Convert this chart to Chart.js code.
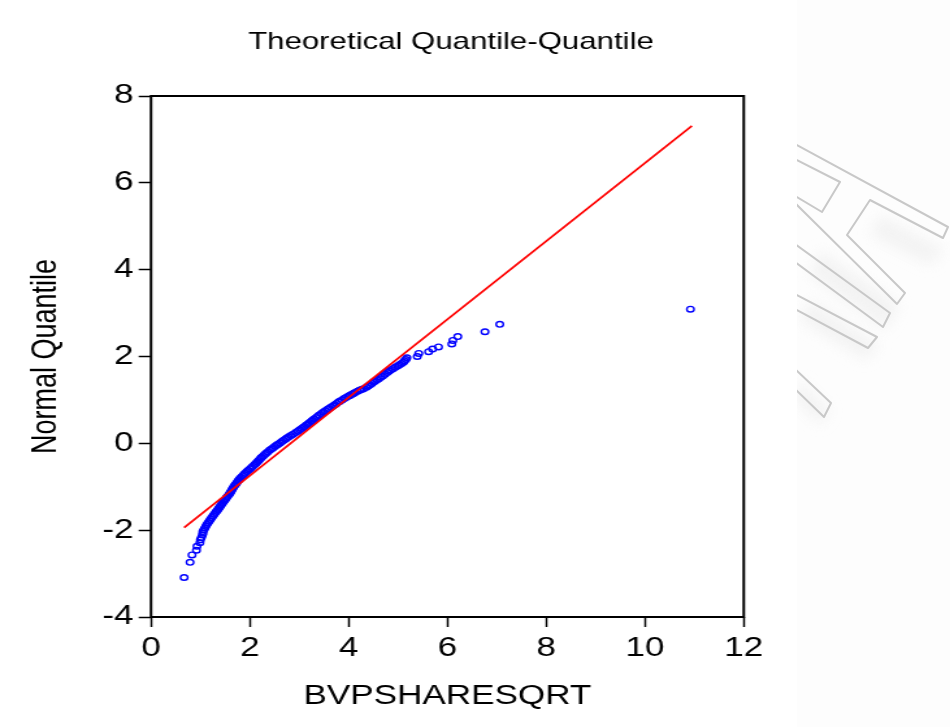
<!DOCTYPE html>
<html>
<head>
<meta charset="utf-8">
<script src="https://cdn.jsdelivr.net/npm/chart.js@4.4.1/dist/chart.umd.min.js"></script>
<style>
  html, body { margin: 0; padding: 0; background: #ffffff; }
  body { width: 950px; height: 727px; position: relative; overflow: hidden; }
  #logo { position: absolute; left: 0; top: 0; }
  /* the chart is laid out narrow and widened horizontally, like the stretched EViews export */
  #stage { position: absolute; left: 0; top: 0; width: 731px; height: 727px;
           transform: scaleX(1.2996); transform-origin: 0 0; }
</style>
</head>
<body>
<svg id="logo" width="950" height="727" viewBox="0 0 950 727">
  <defs>
    <filter id="soft" x="-20%" y="-20%" width="140%" height="140%">
      <feGaussianBlur stdDeviation="7"/>
    </filter>
    <clipPath id="logoClip"><rect x="797" y="0" width="153" height="727"/></clipPath>
  </defs>
  <g clip-path="url(#logoClip)">
    <rect x="797" y="0" width="153" height="727" fill="#fdfdfd"/>
    <g fill="#efefef" filter="url(#soft)" opacity="0.7">
      <polygon points="880,215 945,250 930,265 870,235"/>
      <polygon points="820,250 900,305 885,330 810,275"/>
      <polygon points="810,300 880,345 865,360 800,320"/>
      <polygon points="800,380 830,410 820,425 795,400"/>
    </g>
    <g fill="none" stroke="#c8c8c8" stroke-width="2" stroke-linejoin="round">
      <polyline points="795,159 840,182 822,212 795,196"/>
      <polyline points="795,144 948,227 943,238 870,200 847,235 905,293 897,304 795,203"/>
      <polyline points="795,244 890,313 883,327 795,262"/>
      <polyline points="795,294 877,337 868,348 795,309"/>
      <polyline points="795,369 831,403 824,417 795,389"/>
    </g>
  </g>
</svg>
<div id="stage"><canvas id="qq"></canvas></div>
<script>
// Sorted square roots of book value per share (horizontal axis)
const sampleSqrt = [
  0.67, 0.79, 0.83, 0.92, 0.93, 0.99, 1.00, 1.02, 1.04, 1.05,
  1.05, 1.07, 1.09, 1.11, 1.13, 1.155, 1.18, 1.205, 1.23, 1.257,
  1.283, 1.31, 1.33, 1.35, 1.369, 1.388, 1.407, 1.426, 1.445, 1.47,
  1.49, 1.51, 1.53, 1.55, 1.58, 1.596, 1.612, 1.628, 1.643, 1.66,
  1.68, 1.70, 1.72, 1.74, 1.76, 1.78, 1.80, 1.826, 1.853, 1.879,
  1.905, 1.94, 1.97, 2.00, 2.03, 2.06, 2.10, 2.125, 2.15, 2.174,
  2.199, 2.224, 2.24, 2.27, 2.30, 2.33, 2.36, 2.40, 2.436, 2.473,
  2.51, 2.546, 2.57, 2.61, 2.647, 2.686, 2.724, 2.75, 2.79, 2.83,
  2.875, 2.93, 2.97, 3.01, 3.05, 3.085, 3.11, 3.144, 3.18, 3.213,
  3.247, 3.27, 3.30, 3.34, 3.37, 3.405, 3.45, 3.49, 3.53, 3.57,
  3.60, 3.64, 3.68, 3.72, 3.756, 3.795, 3.82, 3.865, 3.91, 3.955,
  4.00, 4.033, 4.066, 4.098, 4.13, 4.18, 4.22, 4.26, 4.30, 4.36,
  4.396, 4.433, 4.47, 4.505, 4.53, 4.57, 4.61, 4.65, 4.69, 4.735,
  4.78, 4.815, 4.85, 4.897, 4.943, 4.99, 5.03, 5.07, 5.11, 5.13,
  5.16, 5.18,
  5.39, 5.42, 5.62, 5.70, 5.82, 6.09, 6.11, 6.21, 6.76, 7.06, 10.92
];

// Theoretical normal quantiles paired with each sorted value (vertical axis)
const normalQuantile = [
  -3.09, -2.74, -2.57, -2.46, -2.37, -2.29, -2.22, -2.17, -2.11, -2.07,
  -2.03, -1.99, -1.95, -1.91, -1.87, -1.83, -1.79, -1.75, -1.71, -1.67,
  -1.63, -1.59, -1.56, -1.53, -1.50, -1.47, -1.44, -1.41, -1.38, -1.34,
  -1.31, -1.28, -1.25, -1.22, -1.18, -1.15, -1.12, -1.09, -1.06, -1.03,
  -0.99, -0.96, -0.93, -0.90, -0.87, -0.84, -0.81, -0.78, -0.75, -0.72,
  -0.69, -0.65, -0.62, -0.59, -0.56, -0.53, -0.49, -0.46, -0.43, -0.40,
  -0.37, -0.34, -0.32, -0.29, -0.26, -0.23, -0.20, -0.16, -0.13, -0.10,
  -0.07, -0.04, -0.02, 0.01, 0.04, 0.07, 0.10, 0.12, 0.15, 0.18,
  0.21, 0.25, 0.28, 0.31, 0.34, 0.37, 0.39, 0.42, 0.45, 0.48,
  0.51, 0.53, 0.56, 0.59, 0.62, 0.65, 0.69, 0.72, 0.75, 0.78,
  0.80, 0.83, 0.86, 0.89, 0.92, 0.95, 0.97, 1.00, 1.03, 1.06,
  1.09, 1.11, 1.13, 1.15, 1.17, 1.20, 1.22, 1.24, 1.26, 1.29,
  1.32, 1.35, 1.38, 1.41, 1.43, 1.46, 1.49, 1.52, 1.55, 1.59,
  1.63, 1.66, 1.69, 1.72, 1.75, 1.78, 1.81, 1.84, 1.87, 1.90,
  1.93, 1.97,
  2.00, 2.07, 2.11, 2.17, 2.22, 2.29, 2.37, 2.46, 2.57, 2.74, 3.09
];

// Reference normal line (end points)
const fitX = [0.67, 10.95];
const fitY = [-1.94, 7.31];

// Axis ranges and tick spacing
const xRange = [0, 12];
const yRange = [-4, 8];
const tickStep = 2;

const FONT = '"Liberation Sans", Arial, Helvetica, sans-serif';

// Closed black box around the plotting area
const boxFrame = {
  id: 'boxFrame',
  afterDatasetsDraw(chart) {
    const { ctx, chartArea: { left, top, right, bottom } } = chart;
    ctx.save();
    ctx.strokeStyle = '#000000';
    ctx.lineWidth = 2;
    ctx.strokeRect(left, top, right - left, bottom - top);
    ctx.restore();
  }
};

const tickGrid = {
  display: true,
  drawOnChartArea: false,
  drawTicks: true,
  tickWidth: 1.5,
  tickColor: '#000000'
};

new Chart(document.getElementById('qq'), {
  type: 'scatter',
  data: {
    datasets: [
      {
        label: 'Normal line',
        data: fitX.map((x, i) => ({ x, y: fitY[i] })),
        showLine: true,
        borderColor: '#ff0000',
        borderWidth: 1.7,
        pointRadius: 0,
        order: 0
      },
      {
        label: 'BVPSHARESQRT',
        data: sampleSqrt.map((x, i) => ({ x, y: normalQuantile[i] })),
        showLine: false,
        pointStyle: 'circle',
        pointRadius: 2.8,
        pointBorderWidth: 1.4,
        pointBorderColor: '#0000ff',
        pointBackgroundColor: 'rgba(0,0,0,0)',
        order: 1
      }
    ]
  },
  options: {
    responsive: true,
    maintainAspectRatio: false,
    animation: false,
    events: [],
    layout: { padding: { left: 0, right: 37, top: 0, bottom: 0 } },
    plugins: {
      legend: { display: false },
      tooltip: { enabled: false },
      title: {
        display: true,
        text: 'Theoretical Quantile-Quantile',
        color: '#000000',
        font: { family: FONT, size: 24, weight: 'normal' },
        padding: { top: 28, bottom: 39.2 }
      }
    },
    scales: {
      x: {
        type: 'linear',
        position: 'bottom',
        min: xRange[0],
        max: xRange[1],
        ticks: {
          stepSize: tickStep,
          color: '#000000',
          font: { family: FONT, size: 27 },
          padding: 5,
          maxRotation: 0
        },
        grid: Object.assign({ tickLength: 10 }, tickGrid),
        border: { display: false },
        title: {
          display: true,
          text: 'BVPSHARESQRT',
          color: '#000000',
          font: { family: FONT, size: 27 },
          padding: { top: 0, bottom: 14 }
        },
        afterFit(scale) { scale.height = 110; }
      },
      y: {
        type: 'linear',
        position: 'left',
        min: yRange[0],
        max: yRange[1],
        ticks: {
          stepSize: tickStep,
          color: '#000000',
          font: { family: FONT, size: 27 },
          padding: 4
        },
        grid: Object.assign({ tickLength: 9.5 }, tickGrid),
        border: { display: false },
        title: {
          display: true,
          text: 'Normal Quantile',
          color: '#000000',
          font: { family: FONT, size: 27 },
          padding: { top: 19, bottom: 0 }
        },
        afterFit(scale) { scale.width = 116.2; }
      },
      ySpace: {
        type: 'linear',
        position: 'right',
        display: true,
        ticks: { display: false },
        grid: { display: false },
        border: { display: false },
        afterFit(scale) { scale.width = 121.7; }
      }
    }
  },
  plugins: [boxFrame]
});
</script>
</body>
</html>
